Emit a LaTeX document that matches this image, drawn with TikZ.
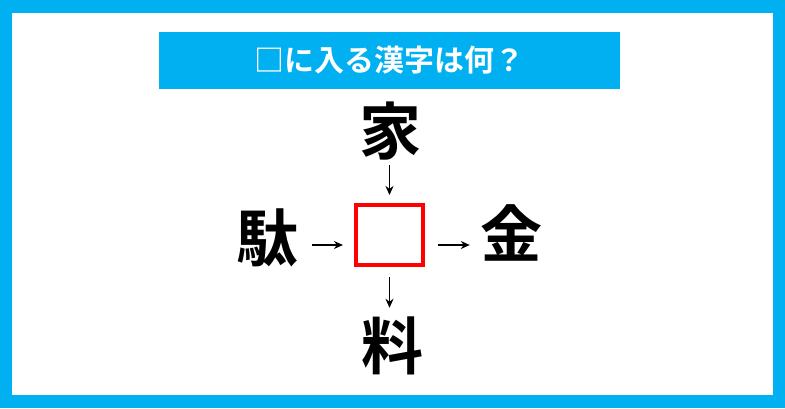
\documentclass[tikz,border=0pt]{standalone}
\usepackage{fontspec}
\setmainfont{Noto Sans CJK JP}[BoldFont={* Bold}]
\usetikzlibrary{arrows.meta}
\definecolor{framecyan}{HTML}{00B0F0}
\definecolor{boxred}{HTML}{FF0000}
\begin{document}
\begin{tikzpicture}
    [
      x = 1pt, y = -1pt,
      kanji/.style = {font=\fontsize{62}{62}\selectfont\bfseries, inner sep=0pt,
          text height=54.5pt, text depth=7.5pt, minimum width=62pt},
      blank/.style = {draw=boxred, line width=4pt, minimum width=67pt, minimum height=60pt, inner sep=0pt},
      title/.style = {fill=framecyan, text=white, font=\fontsize{30}{30}\selectfont\bfseries,
          minimum width=461pt, minimum height=57pt, inner sep=0pt},
      arrowline/.style = {line width=1.8pt, -{Stealth[length=9pt, width=8pt]}},
    ]

    % frame
    \fill[framecyan] (0,0) rectangle (785,408);
    \fill[white] (12,13) rectangle (773,395);
    \useasboundingbox (0,0) rectangle (785,408);

    \node[title] (heading) at (389.5,60.5) {□に入る漢字は何？};

    \node[blank] (box) at (389.5,235) {};
    \node[kanji] (top) at (390,131) {家};
    \node[kanji] (left) at (267,238) {駄};
    \node[kanji] (right) at (511,234) {金};
    \node[kanji] (bottom) at (392,346) {料};

    \draw[arrowline, shorten <=3pt, shorten >=8pt] (top.south -| box) -- (box.north);
    \draw[arrowline, shorten <=14pt, shorten >=11pt] ([yshift=-7pt]left.east) -- ([yshift=-10pt]box.west);
    \draw[arrowline, shorten <=13pt, shorten >=10pt] ([yshift=-10pt]box.east) -- ([yshift=-11pt]right.west);
    \draw[arrowline, shorten <=10pt, shorten >=7pt] (box.south) -- (bottom.north -| box);

  \end{tikzpicture}
\end{document}
